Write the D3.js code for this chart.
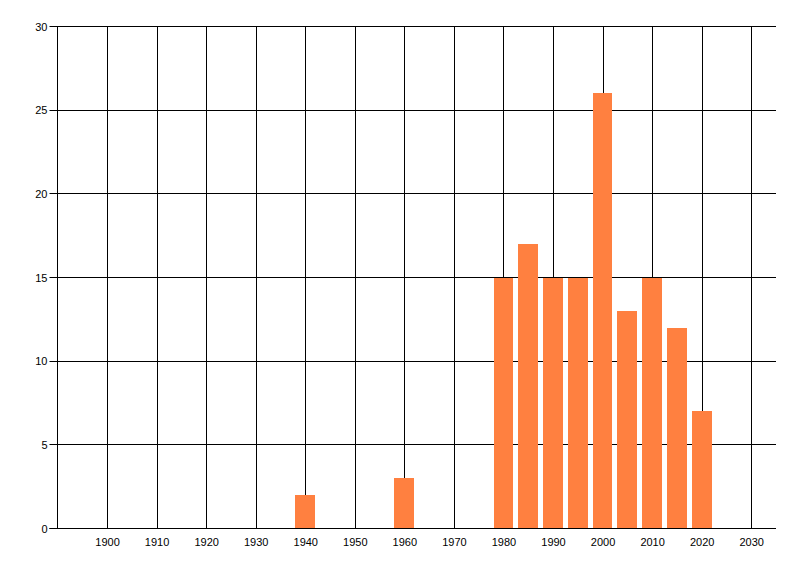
<!DOCTYPE html>
<html>
<head>
<meta charset="utf-8">
<script src="https://cdn.jsdelivr.net/npm/d3@7"></script>
<style>
html,body{margin:0;padding:0;background:#fff;}
svg{display:block;}
text{font-family:"Liberation Sans",Arial,sans-serif;font-size:11px;fill:#000;}
</style>
</head>
<body>
<svg id="c" width="800" height="576"></svg>
<script>
const years = [1940, 1960, 1980, 1985, 1990, 1995, 2000, 2005, 2010, 2015, 2020];
const counts = [2, 3, 15, 17, 15, 15, 26, 13, 15, 12, 7];
const xTicks = [1900, 1910, 1920, 1930, 1940, 1950, 1960, 1970, 1980, 1990, 2000, 2010, 2020, 2030];
const yTicks = [0, 5, 10, 15, 20, 25, 30];

(function () {
const svg = d3.select("#c");
const pL = 57.5, pR = 776, pT = 26.5, pB = 528.5;
const x = d3.scaleLinear().domain([1890, 2035]).range([pL, pR]);
const y = d3.scaleLinear().domain([0, 30]).range([pB, pT]);
const barYears = 4;
const py = d => Math.round(y(d) - 0.5) + 0.5;
const px = d => Math.round(x(d)) + 0.5;

// vertical gridlines
svg.append("g").selectAll("line").data(xTicks).join("line")
  .attr("x1", px).attr("x2", px)
  .attr("y1", pT).attr("y2", pB)
  .attr("stroke", "#000").attr("stroke-width", 1);

// horizontal gridlines
svg.append("g").selectAll("line").data(yTicks).join("line")
  .attr("x1", pL - 8).attr("x2", pR)
  .attr("y1", py).attr("y2", py)
  .attr("stroke", "#000").attr("stroke-width", 1);

// bars
svg.append("g").selectAll("rect").data(years).join("rect")
  .attr("x", d => Math.round(x(d - barYears / 2)))
  .attr("width", d => Math.round(x(d + barYears / 2)) - Math.round(x(d - barYears / 2)))
  .attr("y", (d, i) => Math.round(y(counts[i])))
  .attr("height", (d, i) => Math.round(y(0)) - Math.round(y(counts[i])))
  .attr("fill", "#ff8040");

// axis lines
svg.append("line").attr("x1", pL).attr("x2", pL).attr("y1", pT).attr("y2", pB)
  .attr("stroke", "#000");
svg.append("line").attr("x1", pL - 8).attr("x2", pR).attr("y1", py(0)).attr("y2", py(0))
  .attr("stroke", "#000");

// y labels
svg.append("g").selectAll("text").data(yTicks).join("text")
  .attr("x", pL - 10).attr("y", d => y(d) + 4)
  .attr("text-anchor", "end").text(d => d);

// x labels
svg.append("g").selectAll("text").data(xTicks).join("text")
  .attr("x", d => x(d) + 0.5).attr("y", pB + 17)
  .attr("text-anchor", "middle").text(d => d);
})();
</script>
</body>
</html>
